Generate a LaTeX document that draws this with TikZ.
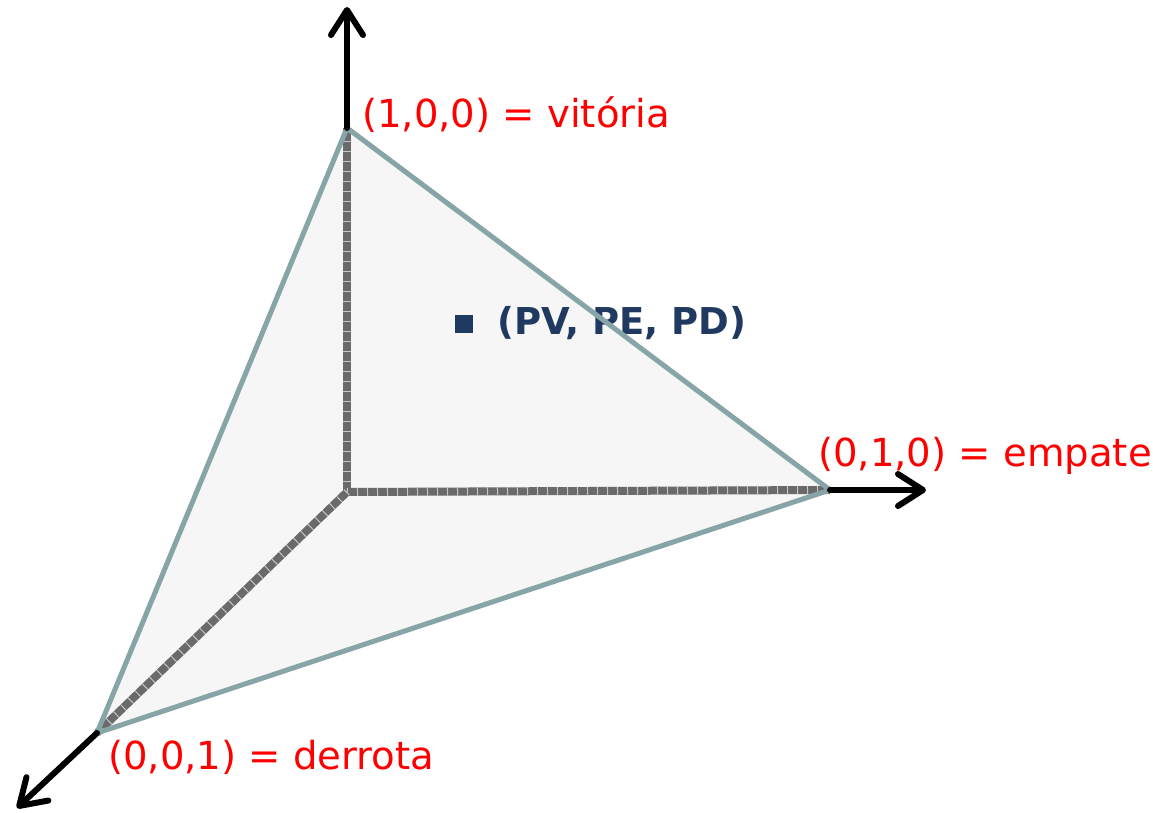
\documentclass[tikz,border=0pt]{standalone}
\usepackage{fontspec}
\setmainfont{DejaVu Sans}
\usetikzlibrary{arrows.meta}
\definecolor{rubro}{HTML}{FF0000}
\definecolor{marinho}{HTML}{1F3960}
\definecolor{borda}{HTML}{87A5A7}
\definecolor{eixo}{HTML}{6A6A6A}
\definecolor{fundo}{HTML}{F6F6F6}

\begin{document}
\begin{tikzpicture}[x=1pt,y=-1pt,
    eixocinza/.style={draw=eixo,line width=8pt},
    textura/.style={draw=gray!45,line width=8pt,dash pattern=on 1pt off 9pt},
    seta/.style={draw=black,line width=6pt,line cap=round,
                 -{Straight Barb[length=25pt,width=32pt,line width=6pt,round]}},
    rotulo/.style={text=rubro,inner sep=0pt,anchor=base west,font=\fontsize{38.6}{44}\selectfont}]
  \useasboundingbox (0,0) rectangle (1153,813);
  % vertices
  \coordinate (O) at (347,492);
  \coordinate (V) at (347,128);
  \coordinate (E) at (830,490);
  \coordinate (D) at (97,733);
  \coordinate (Vfim) at (347,7);
  \coordinate (Efim) at (926,490);
  \coordinate (Dfim) at (17,808);
  % simplex
  \fill[fundo] (V) -- (E) -- (D) -- cycle;
  \foreach \p in {V,E,D}{
    \draw[eixocinza] (O) -- (\p);
    \draw[textura] (O) -- (\p);
  }
  \fill[marinho] (455,315) rectangle (473,333);
  \node[text=marinho,inner sep=0pt,anchor=base west,font=\fontsize{37}{42}\selectfont\bfseries]
       (ponto) at (497,334) {(PV, PE, PD)};
  \draw[borda,line width=5pt,line join=round] (V) -- (E) -- (D) -- cycle;
  % eixos
  \draw[seta] (V) -- (Vfim);
  \draw[seta] (E) -- (Efim);
  \draw[seta] (D) -- (Dfim);
  \node[rotulo] (vit) at (362,128) {(1,0,0) = vitória};
  \node[rotulo] (emp) at (818,466) {(0,1,0) = empate};
  \node[rotulo] (der) at (108,769) {(0,0,1) = derrota};
\end{tikzpicture}
\end{document}
